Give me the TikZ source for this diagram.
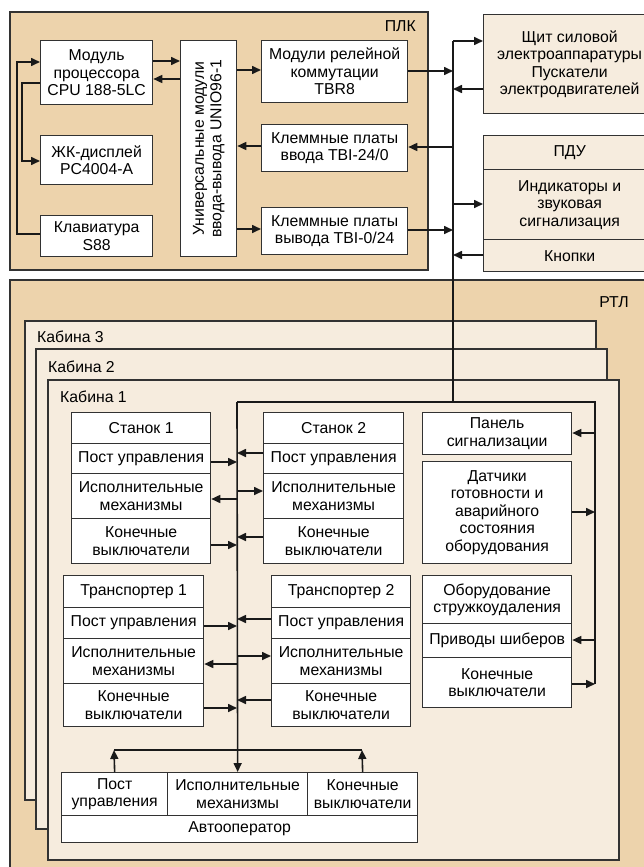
\documentclass[tikz,border=0pt]{standalone}
\usepackage{fontspec}
\setmainfont{Liberation Sans}
\usetikzlibrary{arrows.meta}
\definecolor{tan}{RGB}{237,211,172}
\definecolor{cream}{RGB}{246,236,222}
\definecolor{edge}{RGB}{50,50,50}
\newcommand\fs{\fontsize{15.8}{17.5}\selectfont}
\tikzset{
  box/.style={draw=edge, fill=white, line width=1.3pt, inner sep=0pt, align=center, anchor=north west, font=\fs},
  cbox/.style={box, fill=cream},
  cont/.style={draw=edge, line width=1.3pt},
  lbl/.style={font=\fs, inner sep=0pt},
  ln/.style={line width=1.6pt, draw=black!90},
  arr/.style={ln, -{Triangle[length=9pt,width=8pt]}}
}
\newcommand\bx[7][box]{\node[#1, minimum width=#4pt, minimum height=#5pt] (#6) at (#2,#3) {#7};}
\begin{document}
\begin{tikzpicture}[x=1pt,y=-1pt]
\useasboundingbox (0,0) rectangle (643,867);
\fill[white] (0,0) rectangle (643,867);
% containers
\draw[cont, fill=tan] (10,12) rectangle (428,270);
\node[lbl, anchor=east] (plk) at (416,26) {ПЛК};
\draw[cont, fill=tan] (10,280) rectangle (680,900);
\node[lbl, anchor=east] (rtl) at (629,302) {РТЛ};
\draw[cont, fill=cream] (25,321) rectangle (596,800);
\node[lbl, anchor=west] (k3) at (37,337) {Кабина 3};
\draw[cont, fill=cream] (36,349) rectangle (607,829);
\node[lbl, anchor=west] (k2) at (48,367) {Кабина 2};
\draw[cont, fill=cream] (48,380) rectangle (619,860);
\node[lbl, anchor=west] (k1) at (60,397) {Кабина 1};
% PLC boxes
\bx{40}{40}{112}{64}{cpu}{Модуль\\процессора\\CPU 188-5LC}
\bx{40}{135}{112}{49}{lcd}{ЖК-дисплей\\PC4004-A}
\bx{40}{215}{112}{41}{kb}{Клавиатура\\S88}
\bx{180}{40}{56}{216}{unio}{}
\node[lbl, rotate=90, align=center] (uniot) at (unio.center) {Универсальные модули\\ввода-вывода UNIO96-1};
\bx{261}{40}{146}{62}{tbr}{Модули релейной\\коммутации\\TBR8}
\bx{261}{124}{146}{47}{tbin}{Клеммные платы\\ввода TBI-24/0}
\bx{261}{207}{146}{47}{tbout}{Клеммные платы\\вывода TBI-0/24}
% right boxes
\bx[cbox]{483}{14}{172}{99}{shch}{Щит силовой\\электроаппаратуры\\Пускатели\\электродвигателей}
\bx[cbox]{483}{135}{172}{34}{pdu}{ПДУ}
\bx[cbox]{483}{169}{172}{70}{ind}{Индикаторы и\\звуковая\\сигнализация}
\bx[cbox]{483}{239}{172}{32}{knop}{Кнопки}
% Stanok 1
\bx{71}{412}{139}{31}{sah}{Станок 1}
\bx{71}{443}{139}{30}{sap}{Пост управления}
\bx{71}{473}{139}{45}{sai}{Исполнительные\\механизмы}
\bx{71}{518}{139}{45}{sak}{Конечные\\выключатели}
% Stanok 2
\bx{263}{412}{140}{31}{sbh}{Станок 2}
\bx{263}{443}{140}{30}{sbp}{Пост управления}
\bx{263}{473}{140}{45}{sbi}{Исполнительные\\механизмы}
\bx{263}{518}{140}{45}{sbk}{Конечные\\выключатели}
% right column
\bx{422}{412}{149}{42}{pan}{Панель\\сигнализации}
\bx{422}{461}{149}{102}{dat}{Датчики\\готовности и\\аварийного\\состояния\\оборудования}
\bx{422}{575}{149}{48}{obh}{Оборудование\\стружкоудаления}
\bx{422}{623}{149}{34}{obp}{Приводы шиберов}
\bx{422}{657}{149}{50}{obk}{Конечные\\выключатели}
% Transporter 1
\bx{63}{575}{140}{32}{tah}{Транспортер 1}
\bx{63}{607}{140}{31}{tap}{Пост управления}
\bx{63}{638}{140}{45}{tai}{Исполнительные\\механизмы}
\bx{63}{683}{140}{43}{tak}{Конечные\\выключатели}
% Transporter 2
\bx{271}{575}{139}{32}{tbh}{Транспортер 2}
\bx{271}{607}{139}{31}{tbp}{Пост управления}
\bx{271}{638}{139}{45}{tbi}{Исполнительные\\механизмы}
\bx{271}{683}{139}{43}{tbk}{Конечные\\выключатели}
% Autooperator
\bx{61}{772}{106}{43}{ap}{Пост\\управления}
\bx{167}{772}{140}{43}{ai}{Исполнительные\\механизмы}
\bx{307}{772}{110}{43}{ak}{Конечные\\выключатели}
\bx{61}{815}{356}{27}{aa}{Автооператор}
% bus coordinates
\coordinate (bT) at (453,41);
\coordinate (bB) at (453,402);
\coordinate (fL) at (237,402);
\coordinate (fR) at (595,402);
\coordinate (fRb) at (595,684);
\coordinate (hL) at (114,750);
\coordinate (hR) at (362,750);
\coordinate (lk) at (17,62);
\coordinate (ll) at (22,161);
% PLC internal
\draw[arr] (cpu.east |- 0,61) -- (unio.west |- 0,61);
\draw[arr] (unio.west |- 0,79) -- (cpu.east |- 0,79);
\draw[arr] (kb.west |- 0,234) -| (lk) -- (cpu.west |- lk);
\draw[arr] (cpu.west |- 0,83) -| (ll) -- (lcd.west |- ll);
\draw[arr] (unio.east |- 0,70) -- (tbr.west |- 0,70);
\draw[arr] (tbin.west |- 0,146) -- (unio.east |- 0,146);
\draw[arr] (unio.east |- 0,229) -- (tbout.west |- 0,229);
% main bus
\draw[ln] (bT) -- (bB);
\draw[ln] (fL) -- (fR) -- (fRb);
\draw[arr] (bT) -- (shch.west |- bT);
\draw[arr] (shch.west |- 0,89) -- (bT |- 0,89);
\draw[arr] (bT |- 0,204) -- (ind.west |- 0,204);
\draw[arr] (knop.west |- 0,255) -- (bT |- 0,255);
\draw[arr] (tbr.east |- 0,71) -- (bT |- 0,71);
\draw[arr] (bT |- 0,147) -- (tbin.east |- 0,147);
\draw[arr] (tbout.east |- 0,230) -- (bT |- 0,230);
% left bus in cabin
\draw[arr] (fL) -- (ai.north);
\draw[arr] (sap.east |- 0,462) -- (fL |- 0,462);
\draw[arr] (fL |- 0,499) -- (sai.east |- 0,499);
\draw[arr] (sak.east |- 0,545) -- (fL |- 0,545);
\draw[arr] (sbp.west |- 0,453) -- (fL |- 0,453);
\draw[arr] (fL |- 0,491) -- (sbi.west |- 0,491);
\draw[arr] (sbk.west |- 0,537) -- (fL |- 0,537);
\draw[arr] (tap.east |- 0,626) -- (fL |- 0,626);
\draw[arr] (fL |- 0,664) -- (tai.east |- 0,664);
\draw[arr] (tak.east |- 0,708) -- (fL |- 0,708);
\draw[arr] (tbp.west |- 0,619) -- (fL |- 0,619);
\draw[arr] (fL |- 0,656) -- (tbi.west |- 0,656);
\draw[arr] (tbk.west |- 0,700) -- (fL |- 0,700);
% right bus in cabin
\draw[arr] (fR |- 0,433) -- (pan.east |- 0,433);
\draw[arr] (dat.east |- 0,512) -- (fR |- 0,512);
\draw[arr] (fR |- 0,640) -- (obp.east |- 0,640);
\draw[arr] (obk.east |- fRb) -- (fRb);
% autooperator
\draw[ln] (hL) -- (hR);
\draw[arr] (ap.north) -- (hL);
\draw[arr] (ak.north) -- (hR);
\end{tikzpicture}
\end{document}
